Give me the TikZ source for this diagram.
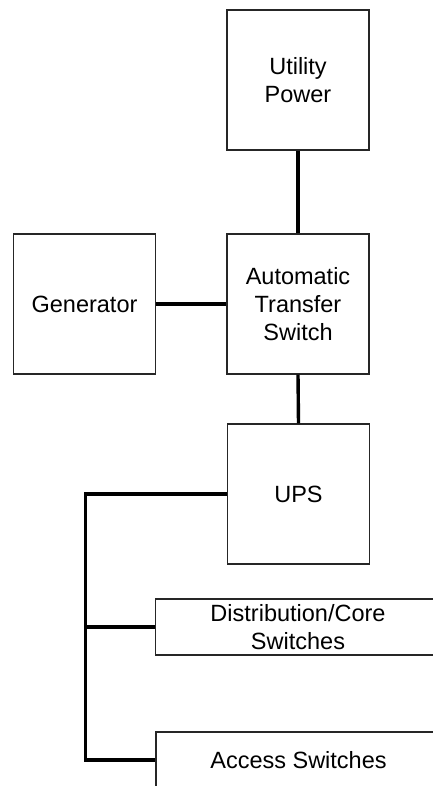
\documentclass[tikz,border=0pt]{standalone}
\usepackage{fontspec}
\setmainfont{Liberation Sans}
\begin{document}
\begin{tikzpicture}[x=1pt,y=-1pt,
  box/.style={draw=black!85,line width=1.1pt,fill=white,inner sep=0pt,align=center,
    font=\fontsize{23.5}{28}\selectfont},
  sq/.style={box,minimum width=142pt,minimum height=140pt},
  bar/.style={box,minimum width=285pt,minimum height=56pt},
  wire/.style={line width=3.4pt,black}]
\useasboundingbox (0,0) rectangle (433,786);
\clip (0,0) rectangle (433,786);
\fill[white] (0,0) rectangle (433,786);
\node[sq] (util) at (298,80) {Utility\\Power};
\node[sq] (ats) at (298,304) {Automatic\\Transfer\\Switch};
\node[sq] (gen) at (84.5,304) {Generator};
\node[sq] (ups) at (298.5,494) {UPS};
\node[bar] (dist) at (298,627) {Distribution/Core\\Switches};
\node[bar] (acc) at (298.5,760) {Access Switches};
\coordinate (bustop) at (85.5,494);
\coordinate (busmid) at (85.5,627);
\coordinate (busbot) at (85.5,760);
\draw[wire] (util.south) -- (ats.north);
\draw[wire] (gen.east) -- (ats.west);
\draw[wire] (ats.south) -- (ups.north);
\draw[wire] (ups.west) -- (bustop) -- (busbot) -- (acc.west);
\draw[wire] (busmid) -- (dist.west);
\end{tikzpicture}
\end{document}
